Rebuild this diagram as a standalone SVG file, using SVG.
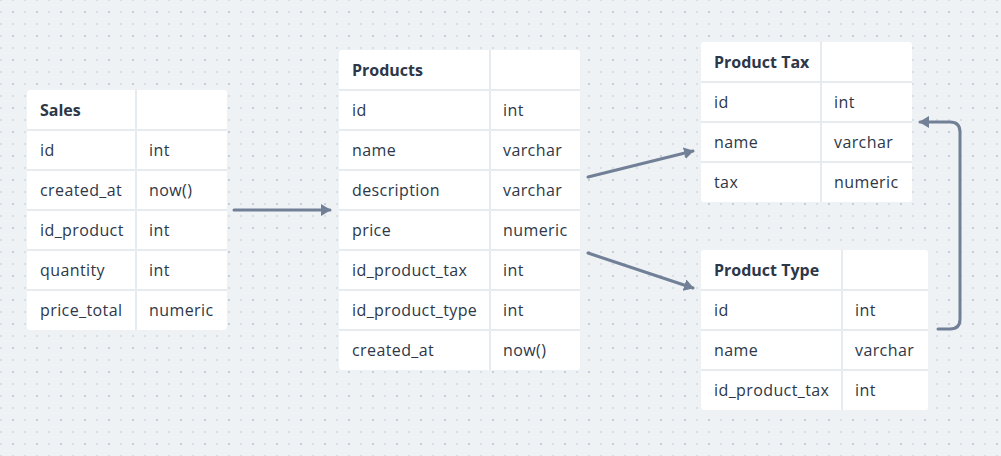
<svg xmlns="http://www.w3.org/2000/svg" width="1001" height="456" viewBox="0 0 1001 456">
<defs>
<pattern id="dots" patternUnits="userSpaceOnUse" x="0" y="-1" width="24" height="24">
<rect x="0" y="0" width="2" height="2" fill="#d6dee6"/>
<rect x="12" y="0" width="2" height="2" fill="#d6dee6"/>
<rect x="0" y="12" width="2" height="2" fill="#d6dee6"/>
<rect x="12" y="12" width="2" height="2" fill="#c3ced9"/>
</pattern>
<marker id="arr" viewBox="0 0 10 12" refX="9" refY="6" markerWidth="10" markerHeight="12" markerUnits="userSpaceOnUse" orient="auto">
<path d="M0,0 L10,6 L0,12 Z" fill="#718096"/>
</marker>
<style>
.tbl{fill:#ffffff}
.grid{stroke:#e6ebf0;stroke-width:2;fill:none}
.t{font-family:"Open Sans","Liberation Sans",sans-serif;font-size:16px;letter-spacing:0.4px;fill:#2d3748}
.h{font-family:"Open Sans","Liberation Sans",sans-serif;font-size:16px;font-weight:700;fill:#2d3748}
.conn{stroke:#718096;stroke-width:3;fill:none;stroke-linecap:round;stroke-linejoin:round}
</style>
</defs>
<rect width="1001" height="456" fill="#eef2f5"/>
<rect width="1001" height="456" fill="url(#dots)"/>

<g id="sales">
<rect class="tbl" x="27" y="90" width="200" height="240" rx="3"/>
<path class="grid" d="M136,90V330 M27,130H227 M27,170H227 M27,210H227 M27,250H227 M27,290H227"/>
<text class="h" x="40" y="116">Sales</text>
<text class="t" x="40" y="156">id</text><text class="t" x="149" y="156">int</text>
<text class="t" x="40" y="196">created_at</text><text class="t" x="149" y="196">now()</text>
<text class="t" x="40" y="236">id_product</text><text class="t" x="149" y="236">int</text>
<text class="t" x="40" y="276">quantity</text><text class="t" x="149" y="276">int</text>
<text class="t" x="40" y="316">price_total</text><text class="t" x="149" y="316">numeric</text>
</g>

<g id="products">
<rect class="tbl" x="339" y="50" width="241" height="320" rx="3"/>
<path class="grid" d="M490,50V370 M339,90H580 M339,130H580 M339,170H580 M339,210H580 M339,250H580 M339,290H580 M339,330H580"/>
<text class="h" x="352" y="76">Products</text>
<text class="t" x="352" y="116">id</text><text class="t" x="503" y="116">int</text>
<text class="t" x="352" y="156">name</text><text class="t" x="503" y="156">varchar</text>
<text class="t" x="352" y="196">description</text><text class="t" x="503" y="196">varchar</text>
<text class="t" x="352" y="236">price</text><text class="t" x="503" y="236">numeric</text>
<text class="t" x="352" y="276">id_product_tax</text><text class="t" x="503" y="276">int</text>
<text class="t" x="352" y="316">id_product_type</text><text class="t" x="503" y="316">int</text>
<text class="t" x="352" y="356">created_at</text><text class="t" x="503" y="356">now()</text>
</g>

<g id="product-tax">
<rect class="tbl" x="701" y="42" width="211" height="160" rx="3"/>
<path class="grid" d="M821,42V202 M701,82H912 M701,122H912 M701,162H912"/>
<text class="h" x="714" y="68">Product Tax</text>
<text class="t" x="714" y="108">id</text><text class="t" x="834" y="108">int</text>
<text class="t" x="714" y="148">name</text><text class="t" x="834" y="148">varchar</text>
<text class="t" x="714" y="188">tax</text><text class="t" x="834" y="188">numeric</text>
</g>

<g id="product-type">
<rect class="tbl" x="701" y="250" width="227" height="160" rx="3"/>
<path class="grid" d="M842,250V410 M701,290H928 M701,330H928 M701,370H928"/>
<text class="h" x="714" y="276">Product Type</text>
<text class="t" x="714" y="316">id</text><text class="t" x="855" y="316">int</text>
<text class="t" x="714" y="356">name</text><text class="t" x="855" y="356">varchar</text>
<text class="t" x="714" y="396">id_product_tax</text><text class="t" x="855" y="396">int</text>
</g>

<g id="connectors">
<path class="conn" d="M234,210H330" marker-end="url(#arr)"/>
<path class="conn" d="M588,177L693,151" marker-end="url(#arr)"/>
<path class="conn" d="M588,253L693,288" marker-end="url(#arr)"/>
<path class="conn" d="M938,329H950Q960,329 960,319V132Q960,122 950,122H920" marker-end="url(#arr)"/>
</g>
</svg>
